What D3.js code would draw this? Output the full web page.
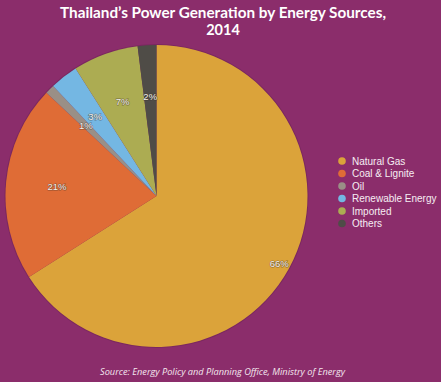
<!DOCTYPE html>
<html>
<head>
<meta charset="utf-8">
<script src="https://cdnjs.cloudflare.com/ajax/libs/d3/7.8.5/d3.min.js"></script>
<style>
  body { margin: 0; background: #8b2d6b; }
  svg { display: block; }
</style>
</head>
<body>
<svg id="svg" width="441" height="382"></svg>
<script>
// data
var categories = ["Natural Gas", "Coal & Lignite", "Oil", "Renewable Energy", "Imported", "Others"];
var shares = [66, 21, 1, 3, 7, 2];
var sliceColors = ["#dba33a", "#df6c36", "#9a8f86", "#74b7e3", "#acac52", "#4f4c47"];
var titleLines = ["Thailand\u2019s Power Generation by Energy Sources,", "2014"];

var svg = d3.select("#svg");
var W = 441, H = 382;

svg.append("rect").attr("width", W).attr("height", H).attr("fill", "#8b2d6b");

// title, one text per line
svg.selectAll("text.title")
  .data(titleLines)
  .enter().append("text")
    .attr("class", "title")
    .attr("x", 223)
    .attr("y", function(d, i) { return 17.5 + i * 17; })
    .attr("text-anchor", "middle")
    .attr("textLength", function(d, i) { return i == 0 ? 326 : null; })
    .attr("lengthAdjust", "spacingAndGlyphs")
    .style("font-family", "Lato, sans-serif")
    .style("font-weight", "bold")
    .style("font-size", "14.5px")
    .style("fill", "#ffffff")
    .text(function(d) { return d; });

// pie
var cx = 156.5, cy = 196, radius = 151;
var data = categories.map(function(c, i) { return {name: c, value: shares[i], color: sliceColors[i]}; });

var pie = d3.pie().sort(null).value(function(d) { return d.value; });
var arc = d3.arc().innerRadius(0).outerRadius(radius);
var arcs = pie(data);

var g = svg.append("g").attr("transform", "translate(" + cx + "," + cy + ")");

g.append("circle").attr("r", radius + 1).attr("fill", "#6a2253").attr("opacity", 0.5);

g.selectAll("path.slice")
  .data(arcs)
  .enter().append("path")
    .attr("class", "slice")
    .attr("d", arc)
    .attr("fill", function(d) { return d.data.color; });

// percentage labels
var maxVal = d3.max(shares);
function labelPos(d) {
    var r = d.data.value == maxVal ? 140 : 100;
    var a = (d.startAngle + d.endAngle) / 2;
    return [Math.sin(a) * r, -Math.cos(a) * r];
}
g.selectAll("text.pct")
  .data(arcs)
  .enter().append("text")
    .attr("class", "pct")
    .attr("x", function(d) { return labelPos(d)[0]; })
    .attr("y", function(d) { return labelPos(d)[1]; })
    .attr("dy", "0.35em")
    .attr("text-anchor", "middle")
    .style("font-family", "'Liberation Sans', Arial, sans-serif")
    .style("font-size", "9.5px")
    .style("fill", "#f4f0ec")
    .style("paint-order", "stroke")
    .style("stroke", "rgba(60,50,40,0.5)")
    .style("stroke-width", "1.2px")
    .text(function(d) { return d.data.value + "%"; });

// legend
var legend = svg.append("g").attr("transform", "translate(342,161)");
var item = legend.selectAll("g.item")
  .data(data)
  .enter().append("g")
    .attr("class", "item")
    .attr("transform", function(d, i) { return "translate(0," + (i * 12.5) + ")"; });
item.append("circle").attr("r", 3.8).attr("fill", function(d) { return d.color; });
item.append("text")
    .attr("x", 10)
    .attr("dy", "0.35em")
    .style("font-family", "'Liberation Sans', Arial, sans-serif")
    .style("font-size", "10px")
    .style("fill", "#f6eef3")
    .text(function(d) { return d.name; });

// source
svg.append("text")
    .attr("x", 222.5)
    .attr("y", 375)
    .attr("text-anchor", "middle")
    .attr("textLength", 245)
    .attr("lengthAdjust", "spacingAndGlyphs")
    .style("font-family", "'Open Sans', sans-serif")
    .style("font-style", "italic")
    .style("font-size", "9.5px")
    .style("fill", "#f3e6ee")
    .text("Source: Energy Policy and Planning Office, Ministry of Energy");
</script>
</body>
</html>
